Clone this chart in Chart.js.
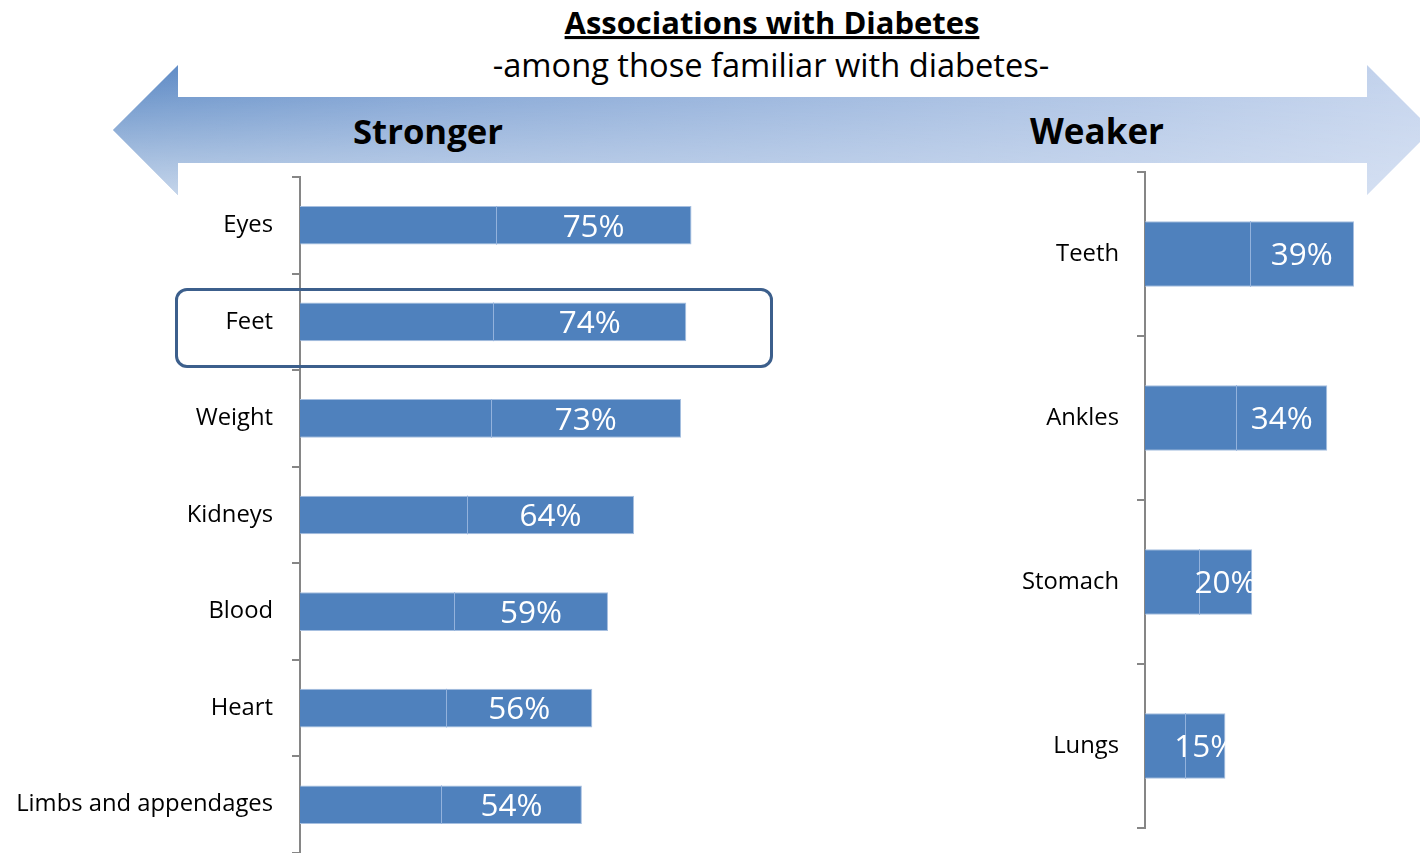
<!DOCTYPE html>
<html><head><meta charset="utf-8">
<script src="https://cdn.jsdelivr.net/npm/chart.js@4.4.1/dist/chart.umd.min.js"></script>
<style>
html,body{margin:0;padding:0;background:#fff;}
#page{position:relative;width:1420px;height:853px;overflow:hidden;}
#bg{position:absolute;left:0;top:0;}
.cw{position:absolute;}
#hl{position:absolute;left:175px;top:288px;width:592px;height:74px;border:3px solid #3c5f8c;border-radius:12px;pointer-events:none;}
</style></head><body>
<div id="page">
<svg id="bg" width="1420" height="853">
 <defs>
  <linearGradient id="gh" gradientUnits="userSpaceOnUse" x1="113" y1="0" x2="1432" y2="0">
    <stop offset="0" stop-color="#5a88c4"/>
    <stop offset="0.22" stop-color="#789dd1"/>
    <stop offset="1" stop-color="#c6d5ee"/>
  </linearGradient>
  <linearGradient id="gv" gradientUnits="userSpaceOnUse" x1="0" y1="65" x2="0" y2="195">
    <stop offset="0" stop-color="#fff" stop-opacity="0"/>
    <stop offset="1" stop-color="#fff" stop-opacity="0.65"/>
  </linearGradient>
  <linearGradient id="gm" gradientUnits="userSpaceOnUse" x1="113" y1="0" x2="1432" y2="0">
    <stop offset="0" stop-color="#fff"/>
    <stop offset="1" stop-color="#6e6e6e"/>
  </linearGradient>
  <mask id="mk" maskUnits="userSpaceOnUse" x="0" y="0" width="1420" height="853">
    <rect x="0" y="0" width="1440" height="853" fill="url(#gm)"/>
  </mask>
 </defs>
 <polygon points="113,130 178,65 178,97 1367,97 1367,65 1432,130 1367,195 1367,163 178,163 178,195" fill="url(#gh)"/>
 <polygon points="113,130 178,65 178,97 1367,97 1367,65 1432,130 1367,195 1367,163 178,163 178,195" fill="url(#gv)" mask="url(#mk)"/>
 <text id="title" x="772" y="34" text-anchor="middle" font-family="'Open Sans'" font-weight="bold" style="text-decoration:underline" fill="#000">Associations with Diabetes</text>
 <text id="sub" x="771" y="77" text-anchor="middle" font-family="'Open Sans'" fill="#000">-among those familiar with diabetes-</text>
 <text id="strong" x="428" y="144" text-anchor="middle" font-family="'Open Sans'" font-weight="bold" fill="#000">Stronger</text>
 <text id="weak" x="1097" y="144" text-anchor="middle" font-family="'Open Sans'" font-weight="bold" fill="#000">Weaker</text>
</svg>
<div class="cw" style="left:0;top:173px;width:830px;height:680px"><canvas id="left"></canvas></div>
<div class="cw" style="left:940px;top:168px;width:480px;height:664px"><canvas id="right"></canvas></div>
<div id="hl"></div>
</div>
<script>
// ---- data ----
const strongerCategories = ['Eyes','Feet','Weight','Kidneys','Blood','Heart','Limbs and appendages'];
const strongerValues = [75, 74, 73, 64, 59, 56, 54];
const weakerCategories = ['Teeth','Ankles','Stomach','Lungs'];
const weakerValues = [39, 34, 20, 15];
const valueSuffix = '%';

// ---- styling helpers ----
const FAMILY = "'Open Sans'";
function fit(text, weight, target) {
  const c = document.createElement('canvas').getContext('2d');
  c.font = weight + ' 100px ' + FAMILY;
  return 100 * target / c.measureText(text).width;
}
document.getElementById('title').setAttribute('font-size', fit('Associations with Diabetes','bold',415));
document.getElementById('sub').setAttribute('font-size', fit('-among those familiar with diabetes-','normal',557));
document.getElementById('strong').setAttribute('font-size', fit('Stronger','bold',150));
document.getElementById('weak').setAttribute('font-size', fit('Weaker','bold',134));

const tickSize = fit('Limbs and appendages','normal',257);
const labelSize = fit('75%','normal',62);

const barLabels = {
  id: 'barLabels',
  afterDatasetsDraw(chart) {
    const ctx = chart.ctx;
    const meta = chart.getDatasetMeta(0);
    const vals = chart.data.datasets[0].data;
    meta.data.forEach((bar, i) => {
      const p = bar.getProps(['x','y','base','height'], true);
      const top = p.y - p.height/2;
      const mid = (p.base + p.x) / 2;
      ctx.save();
      ctx.strokeStyle = '#93b2dc';
      ctx.lineWidth = 1;
      ctx.beginPath();
      ctx.moveTo(Math.round(mid)+0.5, top);
      ctx.lineTo(Math.round(mid)+0.5, top + p.height);
      ctx.stroke();
      ctx.beginPath();
      ctx.rect(p.base, top, p.x - p.base, p.height);
      ctx.clip();
      ctx.fillStyle = '#fff';
      ctx.font = labelSize + 'px ' + FAMILY;
      ctx.textAlign = 'center';
      ctx.textBaseline = 'alphabetic';
      ctx.fillText(vals[i] + valueSuffix, p.base + 0.75*(p.x - p.base), p.y + labelSize*0.36);
      ctx.restore();
    });
  }
};

function makeChart(id, cats, vals, max, yWidth, tickPad, padding) {
  return new Chart(document.getElementById(id), {
    type: 'bar',
    data: { labels: cats, datasets: [{
      data: vals, backgroundColor: '#4f81bd', borderColor: '#a6bfe0', borderWidth: 1,
      categoryPercentage: 1, barPercentage: 0.4 }] },
    options: {
      indexAxis: 'y', responsive: true, maintainAspectRatio: false, animation: false,
      layout: { padding },
      plugins: { legend: { display: false }, tooltip: { enabled: false } },
      scales: {
        x: { display: false, min: 0, max },
        y: {
          border: { color: '#868686', width: 2 },
          grid: { drawOnChartArea: false, color: '#868686', lineWidth: 2, tickLength: 8, offset: true },
          ticks: { color: '#000', font: { family: FAMILY, size: tickSize }, padding: tickPad },
          afterFit(s) { s.width = yWidth; s.paddingTop = 0; s.paddingBottom = 0; }
        }
      }
    },
    plugins: [barLabels]
  });
}

makeChart('left', strongerCategories, strongerValues, 100, 300, 19, {top: 4, right: 8, bottom: 0, left: 0});
makeChart('right', weakerCategories, weakerValues, 50, 205, 18, {top: 4, right: 7, bottom: 4, left: 0});
</script>
</body></html>
